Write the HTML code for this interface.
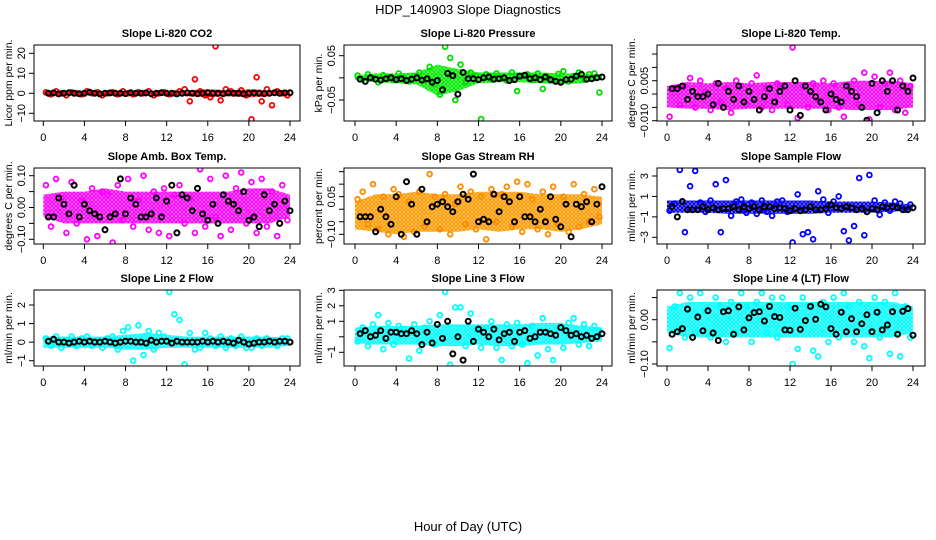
<!DOCTYPE html>
<html><head><meta charset="utf-8">
<style>
html,body{margin:0;padding:0;background:#fff;}
svg{display:block;font-family:"Liberation Sans",Arial,sans-serif;}
</style></head>
<body>
<svg id="chart" width="936" height="540" viewBox="0 0 936 540" xmlns="http://www.w3.org/2000/svg">
<rect width="936" height="540" fill="#fff"/>
<text x="468" y="14" text-anchor="middle" font-size="13">HDP_140903  Slope Diagnostics</text>
<text x="468" y="531" text-anchor="middle" font-size="13">Hour of Day (UTC)</text>
</svg>
<script>
const hoursColor=[0.25,0.75,1.25,1.75,2.25,2.75,3.25,3.75,4.25,4.75,5.25,5.75,6.25,6.75,7.25,7.75,8.25,8.75,9.25,9.75,10.25,10.75,11.25,11.75,12.25,12.75,13.25,13.75,14.25,14.75,15.25,15.75,16.25,16.75,17.25,17.75,18.25,18.75,19.25,19.75,20.25,20.75,21.25,21.75,22.25,22.75,23.25,23.75];
const hoursBlack=[0.5,1,1.5,2,2.5,3,3.5,4,4.5,5,5.5,6,6.5,7,7.5,8,8.5,9,9.5,10,10.5,11,11.5,12,12.5,13,13.5,14,14.5,15,15.5,16,16.5,17,17.5,18,18.5,19,19.5,20,20.5,21,21.5,22,22.5,23,23.5,24];
const bandHours=[0,2,4,6,8,10,12,14,16,18,20,22,24];
const xTicks=[0,4,8,12,16,20,24];

const co2Color=[0.5,-0.5,1,0,-1,0.5,0,-0.5,1,0,0.5,-1,0,0.5,-0.5,1,0,-0.5,0.5,0,1,-1,0,0.5,-0.5,0,1,2,-4,7,1,-1,-2,23.5,-3.5,2,1,0,1.5,-1,-13,8,-4,2,-6,1,0,-1];
const co2Black=[0,0.2,-0.3,0,0.3,0,-0.2,0,0.5,0,-0.3,0,0.2,0,0,-0.2,0.3,0,0,0.2,-0.2,0,0.3,0,0,-0.3,0,0.2,0,-0.2,0,0.3,0,0,-0.2,0.2,0,0,-0.3,0,0.2,0,-0.2,0,0.3,0,0.2,0.3];
const co2Lo=[-1,-1,-1,-1,-1,-1,-1,-1.5,-2,-1.5,-2,-1.5,-1];
const co2Hi=[1,1,1,1,1,1,1,1.5,2,1.5,2,1.5,1];

const presColor=[0.005,-0.003,0.008,0,-0.01,0.006,0.002,-0.005,0.01,0,-0.008,0.004,0.012,-0.006,0.025,-0.015,-0.038,0.07,0.045,-0.05,0.03,-0.01,0.012,0.005,-0.093,0.008,-0.004,0.01,0,-0.006,0.012,-0.03,0.004,0.008,-0.005,0.01,-0.025,0.002,-0.006,0.009,0.015,-0.008,0.004,0.012,-0.004,0.008,0.01,-0.033];
const presBlack=[-0.003,-0.008,0,-0.003,-0.005,-0.002,0,-0.004,-0.002,-0.006,-0.003,0,-0.005,-0.002,-0.01,-0.006,-0.027,0.01,0.005,-0.037,0.012,-0.002,-0.002,-0.004,0,0.002,-0.003,-0.002,0,-0.006,-0.004,0.004,0.006,-0.002,0,-0.004,0.002,-0.004,-0.008,-0.01,-0.004,-0.003,0.004,0.008,-0.003,-0.002,0,0.002];
const presLo=[-0.005,-0.01,-0.012,-0.015,-0.04,-0.03,-0.012,-0.01,-0.01,-0.012,-0.015,-0.012,-0.005];
const presHi=[0.005,0.01,0.01,0.012,0.03,0.02,0.012,0.012,0.012,0.012,0.01,0.01,0.008];

const liTempColor=[-0.0085,0.002,-0.004,0.003,0.006,-0.005,0.005,0.001,-0.006,0.004,-0.003,0.002,-0.007,0.005,0.003,-0.004,0.004,0.007,-0.005,0.002,-0.006,0.004,0.003,-0.004,0.0175,-0.009,0.003,-0.005,0.004,-0.002,0.005,-0.006,0.004,-0.005,-0.0085,0.003,0.005,-0.004,0.008,-0.0095,0.0065,-0.005,0.004,0.008,-0.006,0.005,-0.007,0.003];
const liTempBlack=[0.002,0.002,0.003,-0.002,0.001,-0.001,-0.001,0,-0.004,0.004,-0.005,0.001,-0.002,0.003,-0.003,0.001,-0.002,-0.006,-0.001,0.002,-0.003,0.001,0.003,-0.006,0.005,-0.008,0.003,0.001,-0.001,-0.003,-0.006,0,-0.002,-0.003,0.003,0.001,-0.001,-0.005,-0.0098,0.004,-0.007,0.005,0.001,0.005,-0.006,0.003,0.001,0.006];
const liTempLo=[-0.005,-0.0055,-0.0055,-0.006,-0.0055,-0.0055,-0.0055,-0.0055,-0.0055,-0.006,-0.006,-0.006,-0.005];
const liTempHi=[0.003,0.0045,0.004,0.0045,0.004,0.0045,0.0045,0.0045,0.004,0.005,0.005,0.005,0.004];

const boxTempColor=[0.07,-0.06,0.09,0.03,-0.08,0.08,-0.05,0.02,-0.1,0.06,-0.09,0.05,0.04,-0.11,0.07,-0.04,0.09,-0.06,0.02,0.1,-0.07,0.05,-0.08,0.06,-0.09,0.04,0.07,-0.05,0.03,-0.08,0.12,-0.06,0.09,-0.03,-0.09,0.1,-0.07,0.06,0.11,-0.05,0.08,-0.08,0.09,-0.06,0.05,-0.09,0.07,-0.04];
const boxTempBlack=[-0.03,-0.03,0.03,0.01,-0.02,0.07,-0.03,0.01,-0.01,-0.02,-0.03,-0.07,-0.03,-0.02,0.09,-0.02,0.03,0.01,-0.03,-0.03,-0.02,0.03,-0.03,0.02,0.07,-0.08,0.04,0.03,-0.01,0.06,-0.02,-0.04,0.01,-0.05,0.04,0.02,0.01,-0.01,0.05,-0.04,-0.03,-0.06,0.04,-0.01,0.01,-0.05,0.02,-0.01];
const boxTempLo=[-0.03,-0.05,-0.05,-0.05,-0.05,-0.05,-0.05,-0.05,-0.05,-0.05,-0.05,-0.05,-0.03];
const boxTempHi=[0.04,0.05,0.05,0.06,0.05,0.05,0.05,0.05,0.05,0.05,0.06,0.06,0.04];

const rhColor=[0.04,0.07,-0.06,0.1,-0.08,0.05,-0.1,0.08,0.06,-0.11,0.03,-0.09,0.07,-0.07,0.14,0.05,-0.08,0.06,-0.1,0.02,0.09,-0.06,0.07,-0.08,0.05,-0.12,0.08,-0.05,0.06,0.09,-0.07,0.11,-0.09,0.1,0.04,-0.08,0.07,-0.1,0.09,-0.06,0.05,-0.09,0.1,-0.07,0.06,-0.05,0.08,-0.03];
const rhBlack=[-0.03,-0.03,-0.03,-0.09,0.0,-0.03,-0.06,0.05,-0.1,0.11,0.02,-0.1,0.08,-0.05,0.01,0.02,0.03,0.01,-0.01,0.03,0.06,0.04,0.14,-0.05,-0.04,-0.05,0.06,-0.01,0.05,0.03,-0.05,0.05,-0.03,-0.03,-0.05,0.0,-0.05,0.05,-0.04,-0.07,0.02,-0.11,0.02,0.01,0.03,-0.05,0.02,0.09];
const rhLo=[-0.08,-0.09,-0.1,-0.09,-0.09,-0.09,-0.08,-0.09,-0.08,-0.08,-0.09,-0.08,-0.06];
const rhHi=[0.03,0.06,0.06,0.07,0.06,0.06,0.07,0.07,0.07,0.06,0.06,0.06,0.05];

const sampleColor=[-0.4,0.3,3.6,-2.5,2.0,3.5,0.4,-0.5,0.6,2.2,-2.5,2.6,-0.9,0.5,0.7,-0.6,0.4,-0.7,0.6,-0.5,-0.9,0.5,0.6,-0.5,-3.5,1.2,-2.7,-2.5,-3.2,1.5,0.7,-0.6,0.5,1.0,-2.4,-3.3,-1.9,2.8,-2.8,3.1,0.6,-0.8,0.4,-0.4,0.5,0.3,-0.3,0.2];
const sampleBlack=[0,-1,0.5,-0.3,-0.3,-0.3,0,-0.3,-0.1,-0.3,-0.2,-0.2,0,-0.3,0,-0.2,0,-0.3,0,0,-0.2,-0.1,-0.2,-0.4,-0.2,-0.4,-0.3,0,-0.3,-0.3,-0.2,0.2,-0.1,-0.2,0,-0.1,-0.3,-0.2,-0.5,-0.2,-0.3,0,-0.1,0,-0.1,-0.3,-0.3,-0.1];
const sampleLo=[-0.6,-0.6,-0.6,-0.7,-0.7,-0.7,-0.7,-0.7,-0.6,-0.6,-0.6,-0.5,-0.3];
const sampleHi=[0.6,0.6,0.6,0.6,0.6,0.6,0.6,0.6,0.5,0.5,0.5,0.4,0.2];

const line2Color=[0.2,-0.2,0.3,-0.3,0.1,0.3,-0.2,0.2,0.3,-0.2,0.1,-0.3,0.2,0.3,-0.4,0.6,0.8,-1.0,0.9,-0.7,0.6,-0.4,0.5,0.3,2.7,1.5,1.2,-1.2,0.5,-0.4,-0.3,0.5,0.2,-0.2,0.3,-0.3,0.2,-0.2,0.3,-0.3,-0.3,0.2,-0.2,0.2,0.1,-0.2,0.2,0.2];
const line2Black=[0.05,0.15,0,0,-0.05,0,0.05,0,0.05,0,0,0.05,0,-0.05,0,0.05,0.05,0,0,-0.05,0.1,0,0.05,0.05,-0.05,0.05,0,0,0,0,0.05,0,0.05,0,0.05,0,-0.05,0.1,0,-0.1,-0.05,0,0,0.05,0,0.05,0.05,0];
const line2Lo=[-0.3,-0.3,-0.3,-0.3,-0.4,-0.4,-0.3,-0.3,-0.3,-0.3,-0.3,-0.3,-0.2];
const line2Hi=[0.3,0.3,0.3,0.3,0.4,0.5,0.4,0.3,0.3,0.3,0.3,0.3,0.2];

const line3Color=[-0.3,0.6,-0.6,0.8,1.4,-0.8,0.9,-0.5,0.7,0.5,-1.4,0.8,-0.9,0.6,1.0,-0.5,1.4,2.9,-1.8,1.9,1.9,-0.6,1.5,0.5,-0.7,0.6,1.0,-0.7,-1.5,0.8,-0.6,0.9,-0.5,-1.7,0.7,-1.2,1.2,-0.8,-1.5,0.6,-0.7,0.9,1.2,-0.5,0.8,-0.6,0.7,0.4];
const line3Black=[0.2,0.4,0,0.1,0.4,-0.1,0.3,0.3,0.2,0.2,0.4,0.2,-0.5,0.3,-0.4,0.8,-0.1,1.0,-1.1,0,-1.5,1.0,-0.3,0.5,0.3,0,0.5,-0.2,0.2,0.3,-0.3,0.3,0.4,-0.1,0,0.3,0.3,0.2,0.1,0.6,0.4,0.1,0.2,0,0.1,-0.1,0,0.2];
const line3Lo=[-0.4,-0.5,-0.5,-0.5,-0.6,-0.6,-0.5,-0.6,-0.6,-0.5,-0.5,-0.4,-0.3];
const line3Hi=[0.6,0.7,0.7,0.7,0.8,0.8,0.8,0.8,0.8,0.9,0.9,0.7,0.6];

const line4Color=[-0.064,0.03,0.06,-0.04,0.05,-0.03,0.06,0.02,-0.04,0.05,0.03,-0.05,0.04,-0.03,0.06,0.03,-0.05,0.04,0.06,-0.03,0.05,-0.04,0.05,0.03,-0.1,-0.066,0.05,0.03,-0.07,-0.083,0.04,-0.05,0.05,-0.04,0.06,0.03,-0.05,0.04,-0.06,-0.087,0.05,-0.04,0.04,-0.077,0.06,-0.083,0.03,-0.04];
const line4Black=[-0.033,-0.027,-0.02,0.024,-0.04,0.006,-0.025,0.02,-0.03,-0.047,0.018,0.02,-0.033,0.029,-0.023,0.004,0.016,0.018,-0.003,0.03,0.007,0.005,-0.023,-0.024,0.026,-0.022,-0.002,0.03,0.001,0.035,0.029,-0.02,-0.033,0.017,-0.027,0.002,-0.027,-0.009,0.011,-0.027,0.017,-0.023,-0.012,0.018,-0.033,0.019,0.025,-0.035];
const line4Lo=[-0.03,-0.04,-0.04,-0.04,-0.04,-0.04,-0.04,-0.04,-0.04,-0.04,-0.04,-0.04,-0.03];
const line4Hi=[0.03,0.04,0.04,0.04,0.04,0.04,0.04,0.04,0.04,0.04,0.04,0.04,0.03];

const NS="http://www.w3.org/2000/svg";
const svg=document.getElementById('chart');
function mk(tag,attrs,parent){const e=document.createElementNS(NS,tag);for(const k in attrs)e.setAttribute(k,attrs[k]);(parent||svg).appendChild(e);return e;}

const cols=[{L:34,R:300,x0:43.3,x24:290},{L:344,R:612,x0:355,x24:602},{L:657,R:925,x0:667,x24:913}];
const rows=[{T:45,B:121},{T:168,B:244},{T:290,B:366}];

const panels=[
 {key:'co2',title:'Slope Li-820 CO2',ylab:'Licor ppm per min.',c:0,r:0,col:'#ff0000',band:'#ff0000',v1:0,p1:93.3,v2:20,p2:53.3,ticks:[-10,0,10,20],labels:['−10','0','10','20'],yc:co2Color,yb:co2Black,lo:co2Lo,hi:co2Hi},
 {key:'pressure',title:'Slope Li-820 Pressure',ylab:'kPa per min.',c:1,r:0,col:'#00dd00',band:'#00ee00',v1:0.05,p1:55.7,v2:-0.05,p2:100,ticks:[-0.05,0,0.05],labels:['−0.05','','0.05'],yc:presColor,yb:presBlack,lo:presLo,hi:presHi},
 {key:'li-temp',title:'Slope Li-820 Temp.',ylab:'degrees C per min.',c:2,r:0,col:'#ff00ff',band:'#ff00ff',v1:0.005,p1:80.7,v2:-0.01,p2:120.7,ticks:[-0.01,-0.005,0,0.005,0.01,0.015],labels:['−0.010','','','0.005','',''],yc:liTempColor,yb:liTempBlack,lo:liTempLo,hi:liTempHi},
 {key:'box-temp',title:'Slope Amb. Box Temp.',ylab:'degrees C per min.',c:0,r:1,col:'#ff00ff',band:'#ff00ff',v1:0.1,p1:175.7,v2:-0.1,p2:239.3,ticks:[-0.1,-0.05,0,0.05,0.1],labels:['−0.10','','0.00','','0.10'],yc:boxTempColor,yb:boxTempBlack,lo:boxTempLo,hi:boxTempHi},
 {key:'rh',title:'Slope Gas Stream RH',ylab:'percent per min.',c:1,r:1,col:'#ff8c00',band:'#ff9a00',v1:0.05,p1:196.7,v2:-0.1,p2:234.3,ticks:[-0.1,-0.05,0,0.05,0.1,0.15],labels:['−0.10','','','0.05','',''],yc:rhColor,yb:rhBlack,lo:rhLo,hi:rhHi},
 {key:'sample-flow',title:'Slope Sample Flow',ylab:'ml/min per min.',c:2,r:1,col:'#0000ff',band:'#0000ff',v1:3,p1:176,v2:-3,p2:237.3,ticks:[-3,-1,1,3],labels:['−3','−1','1','3'],yc:sampleColor,yb:sampleBlack,lo:sampleLo,hi:sampleHi},
 {key:'line2-flow',title:'Slope Line 2 Flow',ylab:'ml/min per min.',c:0,r:2,col:'#00ffff',band:'#00ffff',v1:2,p1:305,v2:-1,p2:360.7,ticks:[-1,0,1,2],labels:['−1','0','1','2'],yc:line2Color,yb:line2Black,lo:line2Lo,hi:line2Hi},
 {key:'line3-flow',title:'Slope Line 3 Flow',ylab:'ml/min per min.',c:1,r:2,col:'#00ffff',band:'#00ffff',v1:3,p1:290.3,v2:-1,p2:352.3,ticks:[-1,0,1,2,3],labels:['−1','','1','2','3'],yc:line3Color,yb:line3Black,lo:line3Lo,hi:line3Hi},
 {key:'line4-flow',title:'Slope Line 4 (LT) Flow',ylab:'ml/min per min.',c:2,r:2,col:'#00ffff',band:'#00ffff',v1:0,p1:319.7,v2:-0.1,p2:364,ticks:[-0.1,-0.05,0,0.05],labels:['−0.10','','0.00',''],yc:line4Color,yb:line4Black,lo:line4Lo,hi:line4Hi}
];

const defs=mk('defs',{});
panels.forEach(p=>{
  const C=cols[p.c],R=rows[p.r];
  const xs=h=>C.x0+(C.x24-C.x0)*h/24;
  const ys=v=>p.p1+(p.p2-p.p1)*(v-p.v1)/(p.v2-p.v1);
  const pat=mk('pattern',{id:'pat-'+p.key,width:4,height:4,patternUnits:'userSpaceOnUse'},defs);
  mk('rect',{width:4,height:4,fill:p.band,opacity:0.35},pat);
  mk('circle',{cx:2,cy:2,r:1.4,fill:'none',stroke:p.band,'stroke-width':1.3},pat);
  const g=mk('g',{});
  
  
  const cid='clip-'+p.key;
  const cp=mk('clipPath',{id:cid},g);mk('rect',{x:C.L,y:R.T,width:C.R-C.L,height:R.B-R.T},cp);
  const plot=mk('g',{'clip-path':'url(#'+cid+')'},g);
  let d='';
  bandHours.forEach((h,i)=>{d+=(i?'L':'M')+xs(h).toFixed(1)+','+ys(p.hi[i]).toFixed(1);});
  for(let i=bandHours.length-1;i>=0;i--)d+='L'+xs(bandHours[i]).toFixed(1)+','+ys(p.lo[i]).toFixed(1);
  const band=mk('path',{d:d+'Z',fill:'url(#pat-'+p.key+')'},plot);
  
  
  hoursColor.forEach((h,i)=>{
    const c=mk('circle',{cx:xs(h).toFixed(1),cy:ys(p.yc[i]).toFixed(1),r:2.4,fill:'none',stroke:p.col,'stroke-width':1.8},plot);
    
    
  });
  hoursBlack.forEach((h,i)=>{
    const c=mk('circle',{cx:xs(h).toFixed(1),cy:ys(p.yb[i]).toFixed(1),r:2.5,fill:'none',stroke:'#000','stroke-width':2},plot);
    
    
  });
  const box=mk('rect',{x:C.L,y:R.T,width:C.R-C.L,height:R.B-R.T,fill:'none',stroke:'#000','stroke-width':1},g);
  
  
  const t=mk('text',{x:(C.L+C.R)/2,y:R.T-8,'text-anchor':'middle','font-size':11,'font-weight':'bold'},g);
  t.textContent=p.title;
  
  
  xTicks.forEach(v=>{
    const x=xs(v);
    mk('line',{x1:x,x2:x,y1:R.B,y2:R.B+5,stroke:'#000','stroke-width':1},g);
    const tl=mk('text',{x:x,y:R.B+20,'text-anchor':'middle','font-size':11},g);
    tl.textContent=v;
    
    
  });
  p.ticks.forEach((v,i)=>{
    const y=ys(v);
    mk('line',{x1:C.L-5,x2:C.L,y1:y,y2:y,stroke:'#000','stroke-width':1},g);
    if(p.labels[i]){
      const tl=mk('text',{x:C.L-9,y:y,'text-anchor':'middle','font-size':11,transform:'rotate(-90 '+(C.L-9)+' '+y+')'},g);
      tl.textContent=p.labels[i];
      
      
    }
  });
  const yl=C.L-22, ym=(R.T+R.B)/2;
  const ya=mk('text',{x:yl,y:ym,'text-anchor':'middle','font-size':10.5,transform:'rotate(-90 '+yl+' '+ym+')'},g);
  ya.textContent=p.ylab;
  
  
});
</script>
</body></html>
